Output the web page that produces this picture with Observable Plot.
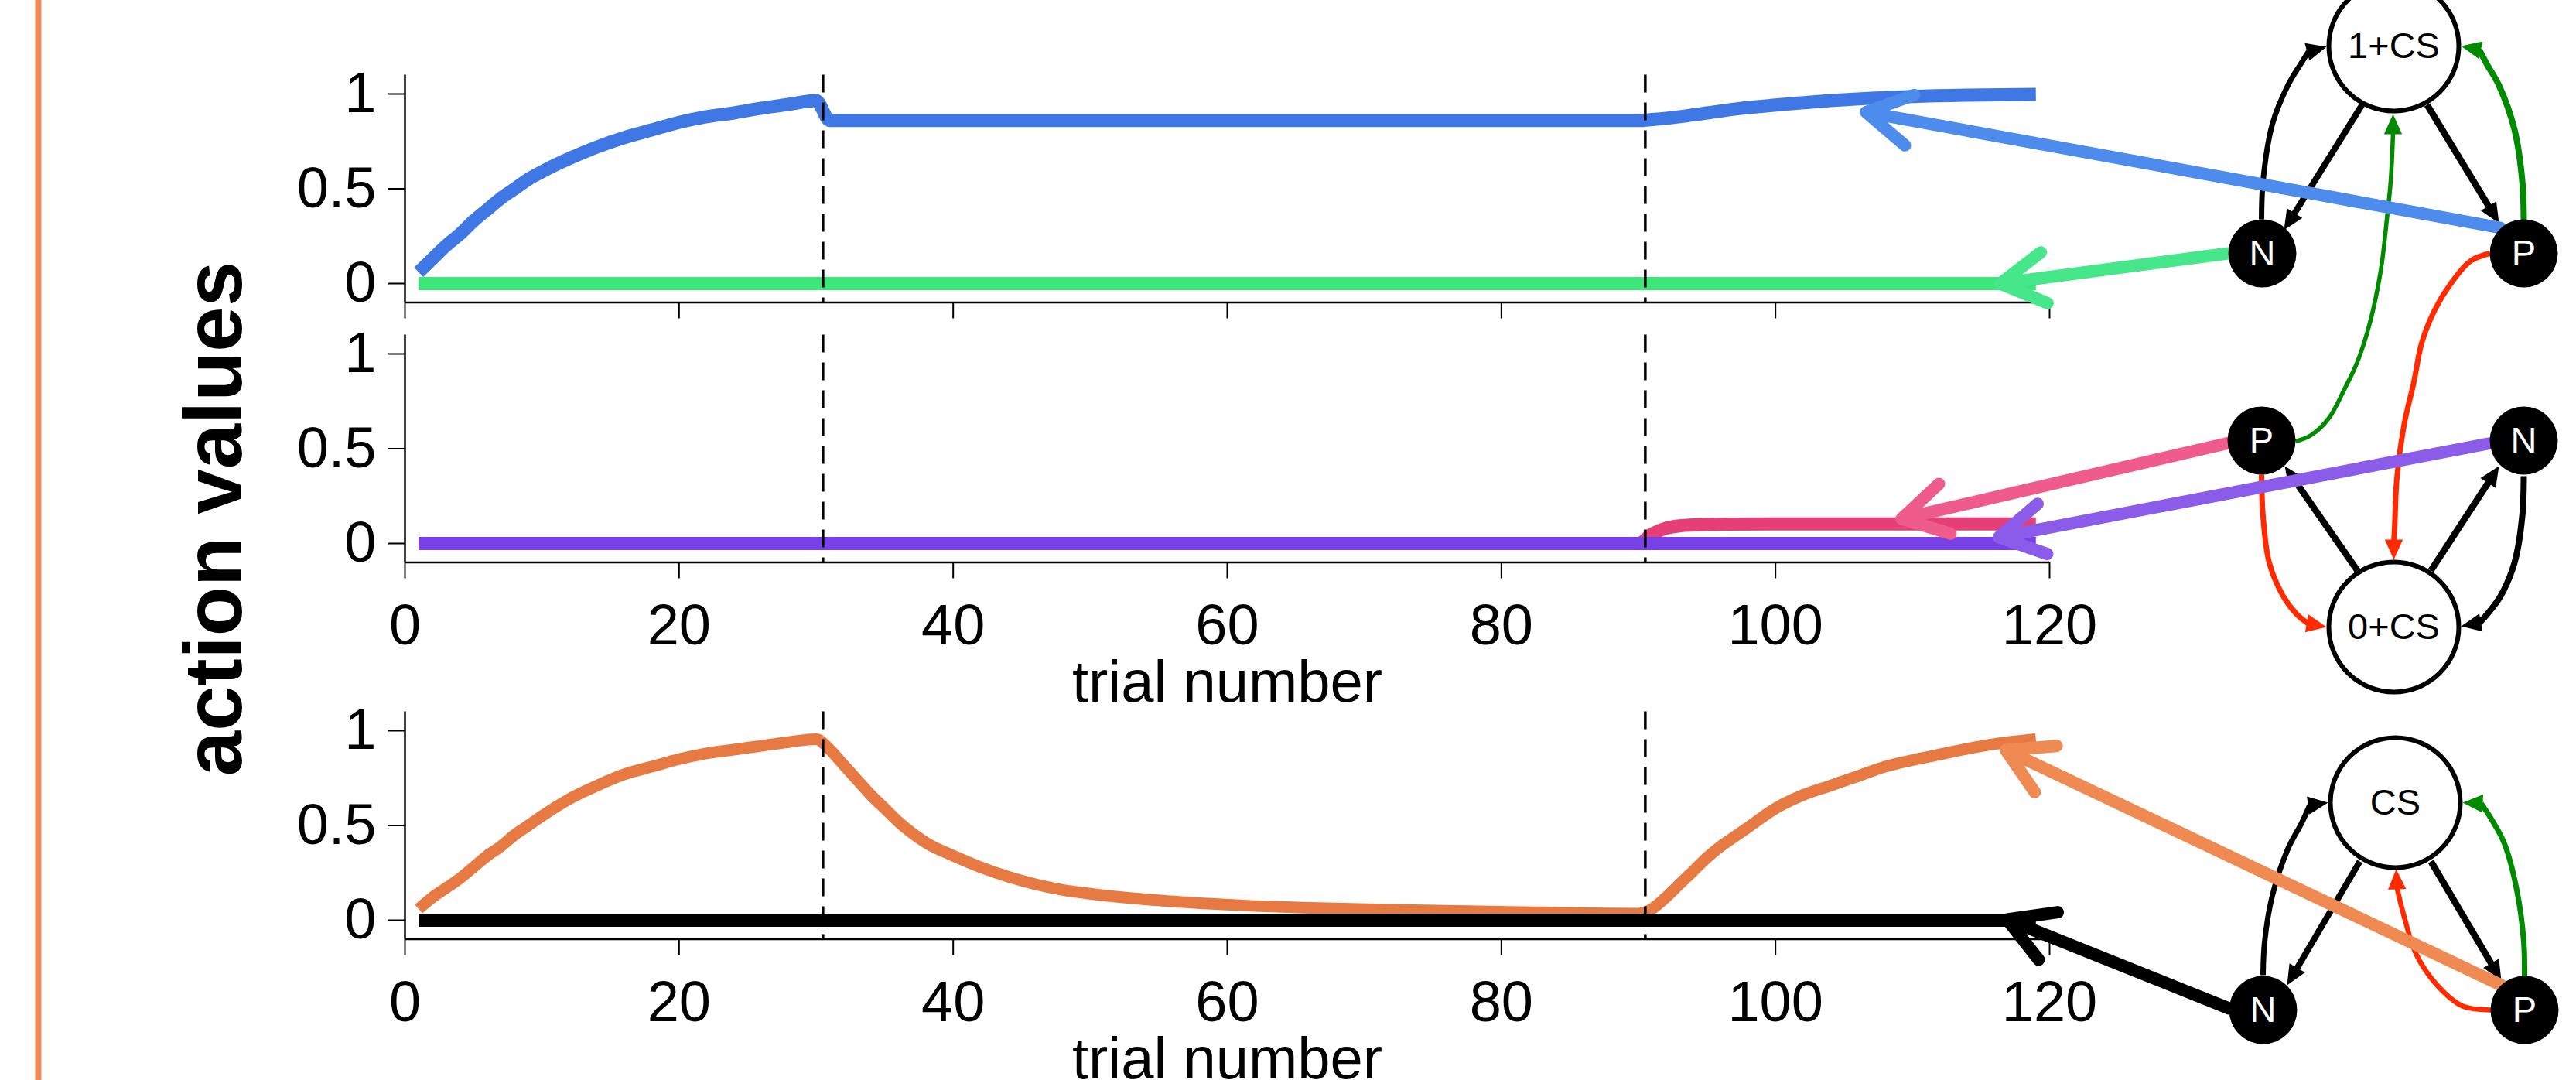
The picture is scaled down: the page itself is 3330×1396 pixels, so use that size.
<!DOCTYPE html>
<html>
<head>
<meta charset="utf-8">
<script src="https://cdn.jsdelivr.net/npm/d3@7"></script>
<script src="https://cdn.jsdelivr.net/npm/@observablehq/plot@0.6"></script>
<style>
  body { margin: 0; background: #fff; }
  #chart { position: relative; width: 3330px; height: 1396px; overflow: hidden; background: #fff; }
  #chart svg { position: absolute; left: 0; top: 0; }
</style>
</head>
<body>
<div id="chart"></div>
<script>
// ---------------- data ----------------
const trialTicks = [0, 20, 40, 60, 80, 100, 120];
const valueTicks = [0, 0.5, 1];
const phaseBoundaries = [30.5, 90.5];

// top panel: 1+CS state
const blueTrials  = [1,2,3,4,5,6,7,8,9,10,12,14,16,18,20,22,24,26,28,30,31,90,91,93,95,97,99,101,104,107,110,114,119];
const blueValues  = [.06,.13,.2,.26,.33,.39,.45,.5,.55,.59,.66,.72,.77,.81,.85,.88,.9,.925,.945,.965,.86,.86,.865,.88,.9,.92,.935,.948,.965,.978,.987,.994,.998];
const greenTrials = [1, 119];
const greenValues = [0, 0];

// middle panel: 0+CS state
const pinkTrials   = [1, 90, 91, 92, 93, 95, 97, 100, 119];
const pinkValues   = [0, 0, .05, .08, .093, .1, .102, .103, .103];
const purpleTrials = [1, 119];
const purpleValues = [0, 0];

// bottom panel: CS state
const orangeTrials = [1,2,3,4,5,6,7,8,9,10,12,14,16,18,20,22,24,26,28,30,31,32,33,34,35,36,37,38,40,42,44,46,48,50,54,58,62,66,72,80,90,91,92,93,94,95,96,97,98,100,102,104,106,108,110,112,114,116,119];
const orangeValues = [.06,.12,.17,.22,.28,.34,.39,.45,.5,.55,.64,.71,.77,.81,.85,.88,.9,.92,.94,.955,.9,.82,.74,.66,.59,.52,.46,.41,.34,.28,.23,.19,.16,.14,.11,.09,.075,.065,.055,.045,.035,.06,.12,.19,.26,.33,.39,.44,.49,.59,.66,.71,.76,.81,.845,.875,.905,.93,.955];
const blackTrials = [1, 119];
const blackValues = [0, 0];

// points on the curves that the annotation arrows aim at
const pointerTrials = [106.6, 116.4, 109.2, 116.3, 116.8, 116.9];
const pointerValues = [0.904, 0, 0.13, 0.033, 0.898, 0.004];

// ---------------- layout & style ----------------
const W = 3330, H = 1396;
const FONT = "'Liberation Sans', Arial, Helvetica, sans-serif";
const frameLeft = 523, frameRight = 2649;
const panelLayout = [
  {top: 96.5,  bottom: 390.5,  tickLabels: false},
  {top: 432.5, bottom: 726.5,  tickLabels: true},
  {top: 919.5, bottom: 1213.5, tickLabels: true}
];
const panelSeries = [
  [{t: greenTrials, v: greenValues, color: "#3ee67a", width: 17},
   {t: blueTrials, v: blueValues, color: "#3f78e4", width: 17}],
  [{t: pinkTrials, v: pinkValues, color: "#e63e77", width: 17},
   {t: purpleTrials, v: purpleValues, color: "#7741e5", width: 17}],
  [{t: orangeTrials, v: orangeValues, color: "#e77942", width: 15},
   {t: blackTrials, v: blackValues, color: "#000000", width: 17}]
];

function panel(cfg, lines) {
  return Plot.plot({
    width: W, height: H,
    marginLeft: frameLeft, marginRight: W - frameRight,
    marginTop: cfg.top, marginBottom: H - cfg.bottom,
    x: {domain: [0, 120]},
    y: {domain: [-0.1, 1.1]},
    style: {background: "transparent", fontFamily: FONT, fontSize: "74px", color: "black"},
    marks: [
      ...lines.map(s => Plot.line(s.t.map((t, i) => [t, s.v[i]]), {
        x: d => d[0], y: d => d[1], stroke: s.color, strokeWidth: s.width,
        curve: "monotone-x", strokeLinejoin: "round", strokeLinecap: "butt"
      })),
      Plot.ruleX(phaseBoundaries, {y1: 1.1, y2: -0.1, stroke: "black", strokeWidth: 3.5, strokeDasharray: "23,13"}),
      Plot.ruleX([0], {y1: -0.1, y2: 1.1, stroke: "black", strokeWidth: 2.5}),
      Plot.ruleY([-0.1], {x1: 0, x2: 120, stroke: "black", strokeWidth: 2.5}),
      Plot.axisY({ticks: valueTicks, tickSize: 21, tickPadding: 16, tickFormat: d => String(d), label: null, strokeWidth: 2, fontSize: 74}),
      Plot.axisX({ticks: trialTicks, tickSize: 21, tickPadding: 32,
        tickFormat: cfg.tickLabels ? (d => String(d)) : (() => ""), label: null, strokeWidth: 2, fontSize: 74}),
      cfg.tickLabels ? Plot.text(["trial number"], {x: 60, frameAnchor: "bottom", lineAnchor: "middle", dy: 156, fontSize: 76}) : null
    ]
  });
}

const panels = panelLayout.map((cfg, i) => panel(cfg, panelSeries[i]));

// ---------------- state diagrams (schematic layout) ----------------
const nodes = {
  C1: {x: 3094, y: 59,   label: "1+CS", big: true},
  N1: {x: 2924, y: 327,  label: "N"},
  P1: {x: 3262, y: 327,  label: "P"},
  P2: {x: 2923, y: 569,  label: "P"},
  N2: {x: 3262, y: 569,  label: "N"},
  C0: {x: 3094, y: 810,  label: "0+CS", big: true},
  C:  {x: 3096, y: 1037, label: "CS", big: true},
  N3: {x: 2925, y: 1305, label: "N"},
  P3: {x: 3263, y: 1305, label: "P"}
};
const GREEN = "#008a00", RED = "#ff2a00";
const edges = [
  {c: "black", w: 7,   p: [[2923,283],[2925,233],[2937,160],[2957,110],[2975,80],[2988,65],[3007,60]]},
  {c: "black", w: 8,   p: [[3053,135],[2952,297]]},
  {c: "black", w: 8.5, p: [[3137,135],[3230,288]]},
  {c: GREEN,   w: 8,   p: [[3262,285],[3260,233],[3250,167],[3230,110],[3214,82],[3200,63],[3181,59]]},
  {c: GREEN,   w: 5.5, p: [[2967,570],[2987,562],[3010,540],[3030,503],[3047,467],[3063,417],[3077,350],[3085,283],[3090,233],[3093,173],[3093,147]]},
  {c: RED,     w: 7,   p: [[3218,327],[3193,337],[3167,367],[3147,400],[3130,443],[3120,493],[3107,550],[3098,617],[3095,683],[3094,700],[3094,723]]},
  {c: "black", w: 8.5, p: [[3047,737],[2953,602]]},
  {c: "black", w: 8.5, p: [[3142,737],[3230,602]]},
  {c: "black", w: 8,   p: [[3262,615],[3260,667],[3250,727],[3232,770],[3215,793],[3203,805],[3181,809]]},
  {c: RED,     w: 7,   p: [[2923,613],[2925,667],[2933,727],[2951,770],[2968,793],[2985,806],[3007,810]]},
  {c: "black", w: 7,   p: [[2925,1260],[2927,1217],[2937,1157],[2957,1097],[2975,1063],[2988,1040],[3009,1037]]},
  {c: "black", w: 8,   p: [[3050,1113],[2956,1273]]},
  {c: "black", w: 8.5, p: [[3142,1113],[3233,1267]]},
  {c: GREEN,   w: 7,   p: [[3263,1262],[3262,1217],[3253,1150],[3237,1090],[3220,1058],[3203,1038],[3183,1037]]},
  {c: RED,     w: 6.5, p: [[3220,1305],[3183,1300],[3150,1273],[3123,1233],[3107,1183],[3098,1145],[3097,1123]]}
];
const HEAD_R = 13, HEAD_L = 26;
const headSymbol = {
  draw(ctx, size) {
    const r = Math.sqrt(size / Math.PI), L = 2 * r, hw = 0.9 * r;
    ctx.moveTo(0, 0); ctx.lineTo(hw, L); ctx.lineTo(-hw, L); ctx.closePath();
  }
};
const heads = [];
const edgeMarks = edges.map(e => {
  const n = e.p.length, tip = e.p[n - 1], prev = e.p[n - 2];
  const dx = tip[0] - prev[0], dy = tip[1] - prev[1], len = Math.hypot(dx, dy);
  const ux = dx / len, uy = dy / len;
  const base = [tip[0] - ux * (HEAD_L - 2), tip[1] - uy * (HEAD_L - 2)];
  const pts = e.p.slice(0, -1).filter((q, i) => i === 0 || Math.hypot(q[0] - tip[0], q[1] - tip[1]) > HEAD_L + 2);
  pts.push(base);
  heads.push({x: tip[0], y: tip[1], angle: Math.atan2(ux, -uy) * 180 / Math.PI, color: e.c});
  return Plot.line(pts, {x: d => d[0], y: d => d[1], stroke: e.c, strokeWidth: e.w,
    curve: pts.length > 2 ? "catmull-rom" : "linear", strokeLinecap: "butt"});
});

// annotation arrows: from a node of the diagram to a point on a curve
const pointerLayout = [
  {panel: 0, node: "P1", off: [-30, -33], color: "#4d8cec"},
  {panel: 0, node: "N1", off: [-44, 0],   color: "#46e78b"},
  {panel: 1, node: "P2", off: [-42, 3],   color: "#ef5b8b"},
  {panel: 1, node: "N2", off: [-41, 3],   color: "#8b5ce9"},
  {panel: 2, node: "P3", off: [-30, -32], color: "#ef8b52"},
  {panel: 2, node: "N3", off: [-44, -2],  color: "#000000"}
];
const pointers = pointerLayout.map((p, i) => {
  const pl = panels[p.panel];
  return {
    x1: nodes[p.node].x + p.off[0], y1: nodes[p.node].y + p.off[1],
    x2: pl.scale("x").apply(pointerTrials[i]), y2: pl.scale("y").apply(pointerValues[i]),
    color: p.color
  };
});

const nodeList = Object.values(nodes);
const overlay = Plot.plot({
  width: W, height: H, margin: 0,
  x: {type: "identity"}, y: {type: "identity"}, color: {type: "identity"},
  axis: null,
  style: {background: "transparent", fontFamily: FONT, overflow: "hidden"},
  marks: [
    Plot.ruleX([49], {stroke: "#ef8c55", strokeWidth: 8}),
    Plot.text(["action values"], {x: 278, y: 670, rotate: -90, fontSize: 105, fontWeight: "bold", fill: "black"}),
    ...edgeMarks,
    Plot.dot(heads, {x: "x", y: "y", r: HEAD_R, symbol: headSymbol, rotate: "angle", fill: "color", stroke: "none"}),
    ...pointers.map(p => Plot.arrow([p], {x1: "x1", y1: "y1", x2: "x2", y2: "y2",
      stroke: p.color, strokeWidth: 16, headLength: 6.2, headAngle: 60, strokeLinecap: "round"})),
    Plot.dot(nodeList.filter(d => d.big), {x: "x", y: "y", r: 84, fill: "white", stroke: "black", strokeWidth: 6}),
    Plot.dot(nodeList.filter(d => !d.big), {x: "x", y: "y", r: 44, fill: "black", stroke: "none"}),
    Plot.text(nodeList, {x: "x", y: "y", text: "label", fontSize: 47, fill: d => d.big ? "black" : "white"})
  ]
});

const chart = document.getElementById("chart");
panels.forEach(p => chart.append(p));
chart.append(overlay);
</script>
</body>
</html>
